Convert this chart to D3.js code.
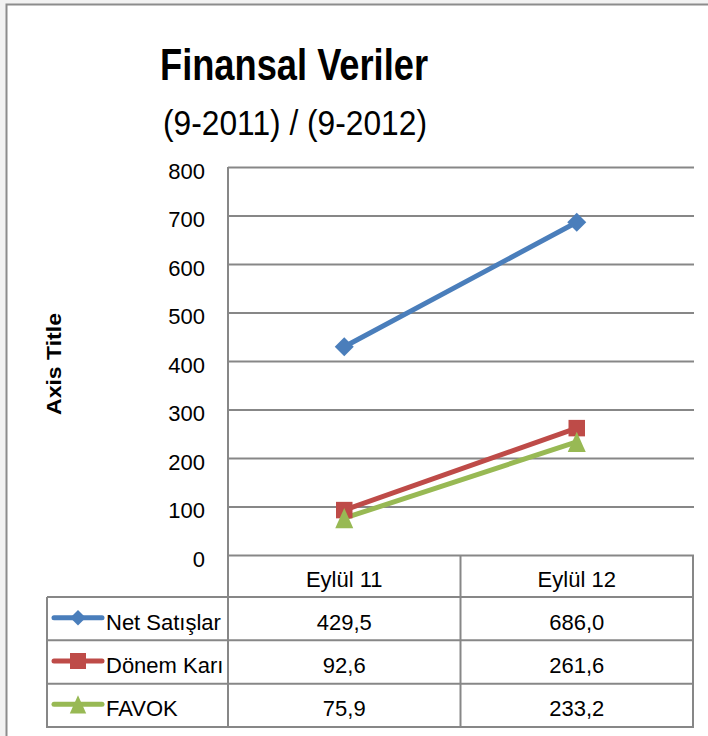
<!DOCTYPE html>
<html>
<head>
<meta charset="utf-8">
<script src="https://cdn.jsdelivr.net/npm/d3@7"></script>
<style>
  body { margin: 0; background: #f2f2f2; }
  svg { display: block; font-family: "Liberation Sans", Arial, sans-serif; }
</style>
</head>
<body>
<svg id="chart" width="708" height="736"></svg>
<script>
// data
const categories = ['Eylül 11', 'Eylül 12'];
const seriesNames = ['Net Satışlar', 'Dönem Karı', 'FAVOK'];
const netSatislar = [429.5, 686.0];
const donemKari = [92.6, 261.6];
const favok = [75.9, 233.2];
const yTicks = [0, 100, 200, 300, 400, 500, 600, 700, 800];

const seriesValues = [netSatislar, donemKari, favok];
const colors = ['#4a7ebb', '#be4b48', '#98b954'];

// custom triangle (wider base, centered on bbox)
const triangle = {
  draw(ctx, size) {
    const w = Math.sqrt(size) * 1.0, h = w * 1.12;
    ctx.moveTo(0, -h / 2);
    ctx.lineTo(w / 2, h / 2);
    ctx.lineTo(-w / 2, h / 2);
    ctx.closePath();
  }
};
const markers = [
  { type: d3.symbolSquare, size: 180, rotate: 45 },
  { type: d3.symbolSquare, size: 272, rotate: 0 },
  { type: triangle, size: 324, rotate: 0 }
];
const keyMarkers = [
  { type: d3.symbolSquare, size: 120, rotate: 45 },
  { type: d3.symbolSquare, size: 256, rotate: 0 },
  { type: triangle, size: 270, rotate: 0 }
];

const svg = d3.select('#chart');
const gridColor = '#878787';

// frame
svg.append('rect')
  .attr('x', 6.5).attr('y', 4.5)
  .attr('width', 720).attr('height', 760)
  .attr('fill', '#fff')
  .attr('stroke', '#8c8c8c')
  .attr('stroke-width', 2);

const plot = { left: 228, right: 693, top: 167, bottom: 555 };
const table = { left: 47, headerBottom: 597, bottom: 727 };

const x = d3.scaleBand().domain(categories).range([plot.left, plot.right]);
const y = d3.scaleLinear().domain([0, 800]).range([plot.bottom, plot.top]);
const rowY = d3.scaleBand().domain(seriesNames).range([table.headerBottom, table.bottom]);

// titles
svg.append('text')
  .attr('x', 294).attr('y', 80)
  .attr('text-anchor', 'middle')
  .attr('font-size', 45).attr('font-weight', 'bold')
  .attr('textLength', 268).attr('lengthAdjust', 'spacingAndGlyphs')
  .text('Finansal Veriler');

svg.append('text')
  .attr('x', 295).attr('y', 135)
  .attr('text-anchor', 'middle')
  .attr('font-size', 35)
  .attr('textLength', 264).attr('lengthAdjust', 'spacingAndGlyphs')
  .text('(9-2011) / (9-2012)');

svg.append('text')
  .attr('transform', 'translate(61,364) rotate(-90)')
  .attr('text-anchor', 'middle')
  .attr('font-size', 21).attr('font-weight', 'bold')
  .attr('textLength', 102).attr('lengthAdjust', 'spacingAndGlyphs')
  .text('Axis Title');

// gridlines
const grid = svg.append('g')
  .attr('transform', `translate(${plot.left},0)`)
  .call(d3.axisLeft(y).tickValues(yTicks).tickSize(-(plot.right + 1 - plot.left)).tickFormat(''));
grid.select('.domain').remove();
grid.selectAll('line').attr('stroke', gridColor).attr('stroke-width', 2);

// tick labels
const yAxis = svg.append('g')
  .attr('transform', `translate(${plot.left},0)`)
  .call(d3.axisLeft(y).tickValues(yTicks).tickSize(0).tickPadding(23));
yAxis.select('.domain').remove();
yAxis.selectAll('text')
  .attr('font-size', 22).attr('fill', '#000')
  .attr('font-family', '"Liberation Sans", Arial, sans-serif')
  .attr('dy', 11);

// table lines
const lines = svg.append('g').attr('stroke', gridColor).attr('stroke-width', 2);
lines.append('line')
  .attr('x1', plot.left).attr('x2', plot.left)
  .attr('y1', plot.top).attr('y2', table.bottom + 1);
seriesNames.forEach(s => {
  lines.append('line')
    .attr('x1', table.left).attr('x2', plot.right + 1)
    .attr('y1', rowY(s)).attr('y2', rowY(s));
});
lines.append('line')
  .attr('x1', table.left).attr('x2', plot.right + 1)
  .attr('y1', table.bottom).attr('y2', table.bottom);
lines.append('line')
  .attr('x1', table.left).attr('x2', table.left)
  .attr('y1', table.headerBottom).attr('y2', table.bottom + 1);
categories.forEach(c => {
  lines.append('line')
    .attr('x1', x(c) + x.bandwidth()).attr('x2', x(c) + x.bandwidth())
    .attr('y1', plot.bottom).attr('y2', table.bottom + 1);
});

// header labels
svg.append('g').selectAll('text')
  .data(categories).join('text')
  .attr('x', d => x(d) + x.bandwidth() / 2)
  .attr('y', (plot.bottom + table.headerBottom) / 2 + 11)
  .attr('text-anchor', 'middle')
  .attr('font-size', 22)
  .text(d => d);

// values in table
const fmt = v => d3.format('.1f')(v).replace('.', ',');
seriesNames.forEach((s, i) => {
  const cy = rowY(s) + rowY.bandwidth() / 2;
  svg.append('g').selectAll('text')
    .data(seriesValues[i]).join('text')
    .attr('x', (d, j) => x(categories[j]) + x.bandwidth() / 2)
    .attr('y', cy + 11)
    .attr('text-anchor', 'middle')
    .attr('font-size', 22)
    .text(d => fmt(d));

  // legend key
  const key = svg.append('g');
  key.append('line')
    .attr('x1', 54).attr('x2', 102)
    .attr('y1', cy - 1).attr('y2', cy - 1)
    .attr('stroke', colors[i]).attr('stroke-width', 5)
    .attr('stroke-linecap', 'round');
  key.append('path')
    .attr('d', d3.symbol().type(keyMarkers[i].type).size(keyMarkers[i].size))
    .attr('transform', `translate(78,${cy - 1}) rotate(${keyMarkers[i].rotate})`)
    .attr('fill', colors[i]);
  key.append('text')
    .attr('x', 106).attr('y', cy + 11)
    .attr('font-size', 22)
    .text(s);
});

// series lines and markers
const line = d3.line()
  .x((d, j) => x(categories[j]) + x.bandwidth() / 2)
  .y(d => y(d));

seriesValues.forEach((vals, i) => {
  svg.append('path')
    .datum(vals)
    .attr('d', line)
    .attr('fill', 'none')
    .attr('stroke', colors[i])
    .attr('stroke-width', 5)
    .attr('stroke-linecap', 'round');
});
seriesValues.forEach((vals, i) => {
  svg.append('g').selectAll('path')
    .data(vals).join('path')
    .attr('d', d3.symbol().type(markers[i].type).size(markers[i].size))
    .attr('transform', (d, j) => `translate(${x(categories[j]) + x.bandwidth() / 2},${y(d)}) rotate(${markers[i].rotate})`)
    .attr('fill', colors[i]);
});
</script>
</body>
</html>
